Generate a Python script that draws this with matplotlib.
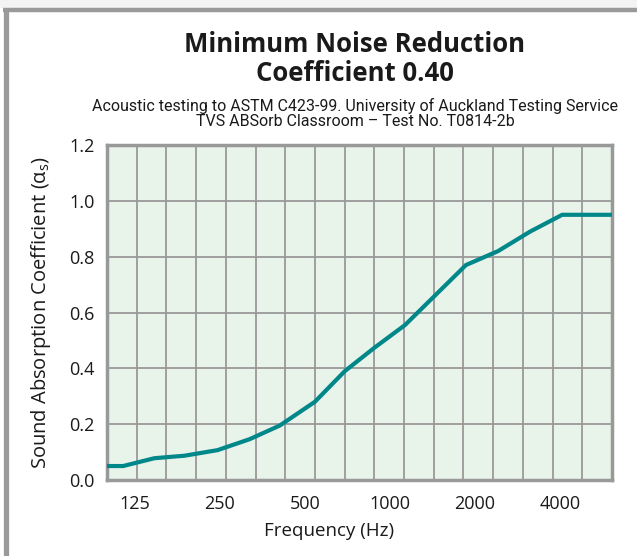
import matplotlib
matplotlib.use("Agg")
import matplotlib.pyplot as plt
from matplotlib.lines import Line2D
from matplotlib.patches import Rectangle
from matplotlib.ticker import NullFormatter
import numpy as np

# values
freqs = [100, 114, 147, 188, 246, 319, 408, 543, 693, 885, 1131, 1858, 2413, 3134, 4067, 6100]
absorption = [0.05, 0.05, 0.078, 0.087, 0.107, 0.146, 0.195, 0.28, 0.39, 0.475, 0.555, 0.77, 0.82, 0.89, 0.95, 0.95]
tick_freqs = [125, 250, 500, 1000, 2000, 4000]
tick_labels = ["125", "250", "500", "1000", "2000", "4000"]
y_ticks = [0.0, 0.2, 0.4, 0.6, 0.8, 1.0, 1.2]

f_min, f_max = 100, 6100
n_cols = 17

plt.rcParams['font.family'] = ['Open Sans', 'DejaVu Sans']
plt.rcParams['mathtext.default'] = 'regular'

fig = plt.figure(figsize=(6.37, 5.56), dpi=100)
fig.patch.set_facecolor('white')

# page frame (cropped card border)
fig.add_artist(Rectangle((0, 1 - 8 / 556), 1, 8 / 556, transform=fig.transFigure,
                         facecolor='#f3f3f3', edgecolor='none'))
fig.add_artist(Line2D([3 / 637, 1], [1 - 10 / 556] * 2, transform=fig.transFigure,
                      color='#9a9a9a', lw=3.2, solid_capstyle='butt'))
fig.add_artist(Line2D([5.5 / 637] * 2, [0, 1 - 8 / 556], transform=fig.transFigure,
                      color='#9a9a9a', lw=3.8, solid_capstyle='butt'))

ax = fig.add_axes([107 / 637, 76 / 556, 505 / 637, 335 / 556])
ax.set_facecolor('#e8f3e9')
ax.set_xscale('log')
ax.set_xlim(f_min, f_max)
ax.set_ylim(0, 1.2)

ax.plot(freqs, absorption, color='#00878a', lw=3.0, solid_joinstyle='miter', zorder=3)

# grid: 17 equal columns across the axis, rows every 0.2
edges = np.geomspace(f_min, f_max, n_cols + 1)[1:-1]
ax.set_xticks(edges, minor=True)
ax.xaxis.set_minor_formatter(NullFormatter())
ax.set_xticks(tick_freqs)
ax.set_xticklabels(tick_labels)
ax.set_yticks(y_ticks)
ax.set_yticklabels([f"{v:.1f}" for v in y_ticks])
ax.grid(which='minor', axis='x', color='#999999', lw=1.3)
ax.grid(which='major', axis='y', color='#999999', lw=1.3)
ax.grid(which='major', axis='x', visible=False)
ax.tick_params(which='both', length=0)
ax.tick_params(axis='x', labelsize=13, pad=11, colors='#1a1a1a')
ax.tick_params(axis='y', labelsize=13, pad=9, colors='#1a1a1a')

for s in ax.spines.values():
    s.set_color('#999999')
    s.set_linewidth(2.5)

ax.set_xlabel("Frequency (Hz)", fontsize=13.5, color='#1a1a1a')
ax.xaxis.set_label_coords(0.44, -0.125)
ax.set_ylabel("Sound Absorption Coefficient (α$_{s}$)", fontsize=14.5, color='#1a1a1a')
ax.yaxis.set_label_coords(-0.106, 0.5)

fig.text(355 / 637, 1 - 59 / 556, "Minimum Noise Reduction\nCoefficient 0.40", ha='center', va='center',
         fontsize=18.5, fontweight='bold', color='#1a1a1a', linespacing=1.1)
fig.text(355 / 637, 1 - 113 / 556,
         "Acoustic testing to ASTM C423-99. University of Auckland Testing Service\n"
         "TVS ABSorb Classroom \u2013 Test No. T0814-2b",
         ha='center', va='center', fontsize=11.5, color='#1a1a1a', linespacing=1.0,
         family=['Roboto', 'DejaVu Sans'])

fig.savefig('out.png', dpi=100)
